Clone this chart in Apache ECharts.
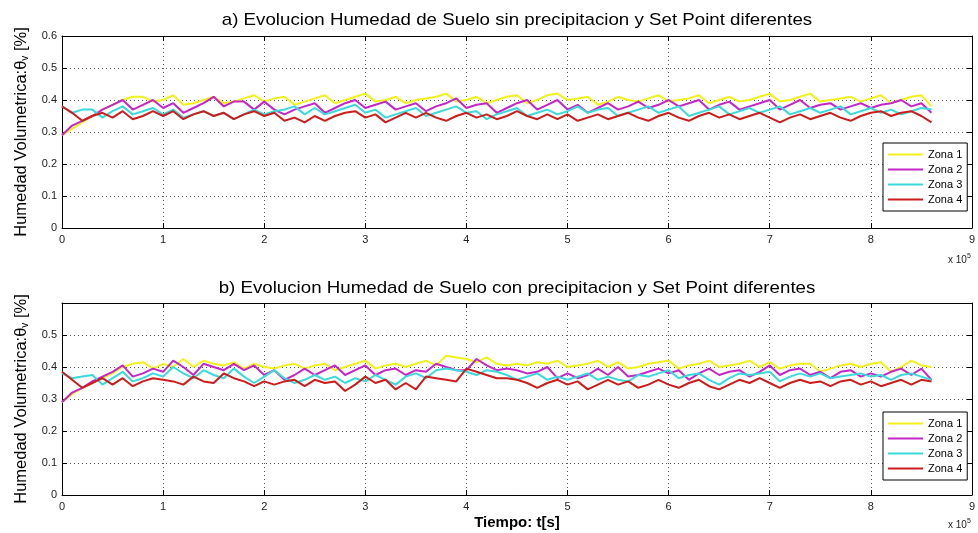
<!DOCTYPE html>
<html>
<head>
<meta charset="utf-8">
<script src="https://cdn.jsdelivr.net/npm/echarts@6/dist/echarts.min.js"></script>
<style>
html,body{margin:0;padding:0;background:#fff;}
#chart{width:978px;height:533px;}
</style>
</head>
<body>
<div id="chart"></div>
<script>
// time in units of 1e5 s
var times = [0,0.1,0.2,0.3,0.4,0.5,0.6,0.7,0.8,0.9,1.0,1.1,1.2,1.3,1.4,1.5,1.6,1.7,1.8,1.9,2.0,2.1,2.2,2.3,2.4,2.5,2.6,2.7,2.8,2.9,3.0,3.1,3.2,3.3,3.4,3.5,3.6,3.7,3.8,3.9,4.0,4.1,4.2,4.3,4.4,4.5,4.6,4.7,4.8,4.9,5.0,5.1,5.2,5.3,5.4,5.5,5.6,5.7,5.8,5.9,6.0,6.1,6.2,6.3,6.4,6.5,6.6,6.7,6.8,6.9,7.0,7.1,7.2,7.3,7.4,7.5,7.6,7.7,7.8,7.9,8.0,8.1,8.2,8.3,8.4,8.5,8.6];

var seriesNames = ['Zona 1','Zona 2','Zona 3','Zona 4'];
var xTicks = [0,1,2,3,4,5,6,7,8,9];
var yTicks = [0,0.1,0.2,0.3,0.4,0.5,0.6];

// a) sin precipitacion
var a_zona1 = [0.29,0.31,0.33,0.35,0.37,0.385,0.40,0.41,0.41,0.395,0.40,0.415,0.385,0.39,0.40,0.41,0.39,0.395,0.405,0.415,0.395,0.405,0.41,0.385,0.395,0.405,0.415,0.39,0.40,0.41,0.42,0.395,0.40,0.41,0.39,0.40,0.405,0.41,0.42,0.395,0.40,0.41,0.39,0.40,0.41,0.415,0.39,0.40,0.415,0.42,0.40,0.405,0.41,0.385,0.395,0.41,0.40,0.395,0.405,0.415,0.395,0.40,0.405,0.415,0.39,0.40,0.41,0.395,0.40,0.41,0.42,0.395,0.40,0.41,0.42,0.395,0.40,0.405,0.41,0.395,0.405,0.415,0.39,0.40,0.41,0.415,0.38];
var a_zona2 = [0.29,0.32,0.335,0.35,0.37,0.385,0.40,0.37,0.385,0.40,0.375,0.39,0.36,0.375,0.39,0.41,0.38,0.395,0.395,0.37,0.395,0.37,0.355,0.37,0.38,0.39,0.36,0.375,0.39,0.40,0.375,0.385,0.395,0.37,0.38,0.39,0.365,0.38,0.39,0.405,0.375,0.385,0.39,0.36,0.375,0.39,0.40,0.37,0.385,0.40,0.37,0.385,0.36,0.375,0.39,0.37,0.38,0.395,0.375,0.385,0.40,0.38,0.39,0.40,0.37,0.385,0.395,0.37,0.38,0.39,0.40,0.37,0.385,0.40,0.375,0.385,0.39,0.37,0.38,0.39,0.375,0.385,0.39,0.40,0.38,0.39,0.36];
var a_zona3 = [0.38,0.36,0.37,0.37,0.345,0.365,0.38,0.355,0.365,0.375,0.355,0.37,0.345,0.355,0.365,0.35,0.36,0.34,0.355,0.37,0.355,0.365,0.37,0.38,0.355,0.375,0.355,0.365,0.375,0.385,0.36,0.37,0.345,0.355,0.365,0.375,0.35,0.36,0.37,0.38,0.36,0.365,0.34,0.355,0.365,0.375,0.35,0.36,0.37,0.355,0.365,0.38,0.36,0.37,0.375,0.35,0.36,0.37,0.38,0.36,0.37,0.38,0.35,0.36,0.37,0.38,0.355,0.365,0.375,0.36,0.37,0.38,0.355,0.365,0.375,0.36,0.37,0.38,0.355,0.365,0.375,0.36,0.37,0.355,0.365,0.375,0.37];
var a_zona4 = [0.38,0.36,0.335,0.35,0.36,0.345,0.365,0.34,0.35,0.365,0.35,0.365,0.34,0.355,0.365,0.35,0.36,0.34,0.355,0.365,0.35,0.36,0.335,0.345,0.33,0.35,0.335,0.35,0.36,0.365,0.345,0.355,0.33,0.345,0.36,0.345,0.36,0.345,0.335,0.35,0.36,0.345,0.355,0.34,0.35,0.365,0.35,0.34,0.355,0.34,0.355,0.335,0.345,0.355,0.34,0.35,0.36,0.345,0.335,0.35,0.36,0.345,0.335,0.35,0.36,0.345,0.355,0.34,0.35,0.36,0.345,0.33,0.345,0.355,0.34,0.35,0.36,0.345,0.335,0.35,0.36,0.365,0.35,0.36,0.365,0.35,0.33];

// b) con precipitacion
var b_zona1 = [0.29,0.315,0.335,0.35,0.365,0.38,0.40,0.41,0.415,0.395,0.41,0.40,0.425,0.40,0.42,0.41,0.405,0.415,0.395,0.41,0.40,0.395,0.405,0.41,0.395,0.405,0.41,0.39,0.40,0.41,0.42,0.395,0.405,0.41,0.40,0.41,0.42,0.405,0.435,0.43,0.425,0.415,0.43,0.41,0.405,0.41,0.405,0.415,0.41,0.42,0.40,0.405,0.41,0.42,0.40,0.415,0.395,0.40,0.41,0.415,0.42,0.395,0.405,0.41,0.42,0.40,0.405,0.41,0.42,0.40,0.415,0.395,0.405,0.41,0.41,0.385,0.395,0.405,0.41,0.40,0.41,0.415,0.385,0.40,0.42,0.405,0.40];
var b_zona2 = [0.29,0.32,0.335,0.355,0.37,0.385,0.405,0.37,0.38,0.395,0.385,0.42,0.40,0.375,0.41,0.40,0.39,0.41,0.39,0.405,0.375,0.39,0.36,0.375,0.395,0.375,0.39,0.405,0.375,0.39,0.405,0.375,0.39,0.395,0.375,0.39,0.385,0.41,0.40,0.39,0.39,0.425,0.405,0.39,0.395,0.39,0.38,0.385,0.40,0.365,0.38,0.365,0.375,0.395,0.375,0.40,0.37,0.375,0.385,0.395,0.38,0.39,0.36,0.38,0.395,0.375,0.385,0.39,0.37,0.385,0.405,0.375,0.39,0.395,0.375,0.385,0.365,0.385,0.39,0.37,0.38,0.37,0.385,0.395,0.375,0.395,0.36];
var b_zona3 = [0.38,0.365,0.37,0.375,0.345,0.365,0.385,0.355,0.365,0.38,0.37,0.40,0.38,0.365,0.39,0.375,0.365,0.395,0.37,0.35,0.37,0.39,0.365,0.35,0.36,0.375,0.36,0.37,0.35,0.365,0.355,0.375,0.36,0.345,0.37,0.38,0.365,0.39,0.395,0.39,0.385,0.375,0.39,0.385,0.375,0.36,0.37,0.38,0.36,0.37,0.36,0.37,0.38,0.36,0.37,0.36,0.355,0.375,0.37,0.38,0.39,0.365,0.375,0.38,0.36,0.345,0.365,0.38,0.375,0.38,0.385,0.355,0.37,0.38,0.37,0.38,0.365,0.37,0.375,0.38,0.37,0.375,0.36,0.375,0.38,0.37,0.36];
var b_zona4 = [0.385,0.36,0.335,0.35,0.365,0.345,0.365,0.34,0.355,0.365,0.36,0.355,0.345,0.37,0.355,0.35,0.38,0.365,0.355,0.34,0.355,0.345,0.355,0.36,0.34,0.36,0.35,0.355,0.325,0.345,0.37,0.35,0.36,0.33,0.35,0.33,0.37,0.365,0.36,0.355,0.395,0.385,0.375,0.365,0.365,0.36,0.35,0.335,0.35,0.36,0.345,0.355,0.33,0.345,0.36,0.345,0.355,0.335,0.345,0.36,0.345,0.335,0.35,0.36,0.34,0.33,0.345,0.36,0.35,0.365,0.35,0.335,0.35,0.36,0.35,0.355,0.34,0.355,0.36,0.345,0.355,0.34,0.35,0.36,0.345,0.36,0.355];

var colors = ['#f2f21a','#c426c8','#3adada','#cc1c1c'];

function pairs(vals){ return vals.map(function(v,i){ return [times[i], v]; }); }

var FONT = 'Liberation Sans, Arial, sans-serif';
var gridLine = {show:true, lineStyle:{color:'#555', type:[1,3], width:1}};

function xAx(grid, pos, labels, extra){
  var o = {type:'value', gridIndex:grid, position:pos, min:0, max:9, interval:1,
    axisLine:{show:true, onZero:false, lineStyle:{color:'#000', width:1}},
    axisTick:{show:true, inside:true, length:5, lineStyle:{color:'#000'}},
    axisLabel:{show:labels, color:'#222', fontSize:11, fontFamily:FONT, margin:6},
    splitLine: labels ? gridLine : {show:false}};
  for (var k in extra) o[k]=extra[k];
  return o;
}
function yAx(grid, pos, labels, hideTop, extra){
  var o = {type:'value', gridIndex:grid, position:pos, min:0, max:0.6, interval:0.1,
    axisLine:{show:true, onZero:false, lineStyle:{color:'#000', width:1}},
    axisTick:{show:true, inside:true, length:5, lineStyle:{color:'#000'}},
    axisLabel:{show:labels, color:'#222', fontSize:11, fontFamily:FONT, margin:5,
      formatter:function(v){ if(hideTop && Math.abs(v-0.6)<1e-9) return ''; return String(Math.round(v*10)/10); }},
    splitLine: labels ? gridLine : {show:false}};
  for (var k in extra) o[k]=extra[k];
  return o;
}

var yName = {
  name:'{a|Humedad Volumetrica:θ}{s|v}{a| [%]}',
  nameLocation:'middle', nameGap:32, nameRotate:90,
  nameTextStyle:{rich:{a:{fontSize:16.5, fontFamily:FONT, color:'#000', lineHeight:18},
                       s:{fontSize:10, fontFamily:FONT, color:'#000', lineHeight:9, verticalAlign:'bottom'}}}
};

var sets = [[a_zona1,a_zona2,a_zona3,a_zona4],[b_zona1,b_zona2,b_zona3,b_zona4]];
var series = [];
sets.forEach(function(set, g){
  set.forEach(function(vals, i){
    series.push({type:'line', name:seriesNames[i], xAxisIndex:g*2, yAxisIndex:g*2,
      data:pairs(vals), showSymbol:false, symbol:'none', animation:false,
      lineStyle:{color:colors[i], width:2}, itemStyle:{color:colors[i]}});
  });
});

function legendAt(top){
  return {orient:'vertical', left:883, top:top, data:seriesNames, icon:'rect',
    itemWidth:35, itemHeight:2, itemGap:4, padding:[6,5,6,5],
    backgroundColor:'#fff', borderColor:'#000', borderWidth:1, borderRadius:0,
    selectedMode:false, textStyle:{fontSize:11, fontFamily:FONT, color:'#000'}};
}

function sciText(y){
  return {type:'text', left:948, top:y, silent:true,
    style:{text:'{a|x 10}{b|5}', rich:{a:{fontSize:10, fontFamily:FONT, fill:'#222', lineHeight:12},
      b:{fontSize:7, fontFamily:FONT, fill:'#222', lineHeight:14, verticalAlign:'top'}}}};
}

var chart = echarts.init(document.getElementById('chart'), null, {renderer:'canvas'});
chart.setOption({
  backgroundColor:'#fff',
  animation:false,
  grid:[{left:62, top:36, width:911, height:192, show:false},
        {left:62, top:303, width:911, height:192, show:false}],
  xAxis:[xAx(0,'bottom',true,{}), xAx(0,'top',false,{}),
         xAx(1,'bottom',true,{name:'Tiempo: t[s]', nameLocation:'middle', nameGap:20,
            nameTextStyle:{fontSize:15, fontWeight:'bold', fontFamily:FONT, color:'#000'}}),
         xAx(1,'top',false,{})],
  yAxis:[yAx(0,'left',true,false,yName), yAx(0,'right',false,false,{}),
         yAx(1,'left',true,true,yName), yAx(1,'right',false,false,{})],
  legend:[legendAt(143), legendAt(412)],
  graphic:[
    {type:'text', x:517, y:20, scaleX:1.1, silent:true, style:{text:'a) Evolucion Humedad de Suelo sin precipitacion y Set Point diferentes',
      fontSize:17, fontFamily:FONT, fill:'#000', align:'center', verticalAlign:'middle'}},
    {type:'text', x:517, y:288, scaleX:1.1, silent:true, style:{text:'b) Evolucion Humedad de Suelo con precipitacion y Set Point diferentes',
      fontSize:17, fontFamily:FONT, fill:'#000', align:'center', verticalAlign:'middle'}},
    sciText(253), sciText(518)
  ],
  series:series
});
</script>
</body>
</html>
